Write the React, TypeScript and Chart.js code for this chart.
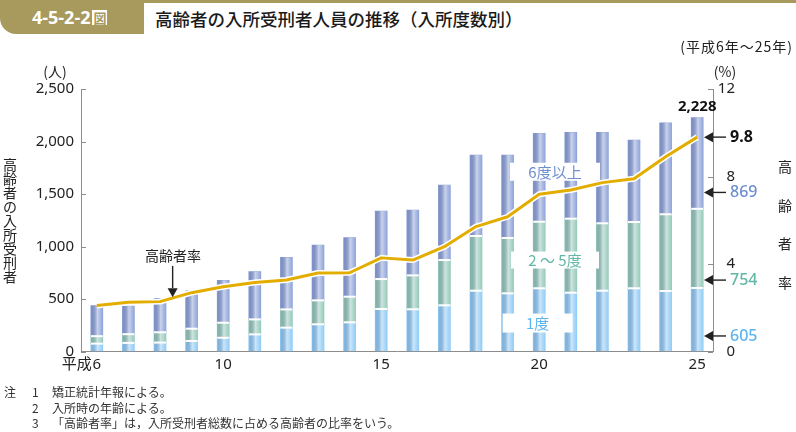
import React, { useEffect, useRef } from 'react';
import { Chart, registerables } from 'chart.js';

Chart.register(...registerables);

// ---- data ----
const years = ['6', '7', '8', '9', '10', '11', '12', '13', '14', '15', '16', '17', '18', '19', '20', '21', '22', '23', '24', '25'];
const firstTime = [75, 82, 85, 100, 131, 163, 227, 259, 278, 405, 402, 440, 579, 554, 602, 560, 579, 602, 576, 605];
const twoToFive = [71, 83, 98, 117, 143, 143, 174, 228, 244, 285, 323, 431, 521, 527, 634, 705, 642, 631, 731, 754];
const sixPlus = [291, 268, 320, 362, 404, 454, 496, 527, 562, 648, 623, 715, 771, 790, 842, 822, 866, 781, 872, 869];
const elderlyRate = [2.1, 2.25, 2.28, 2.69, 2.96, 3.15, 3.27, 3.59, 3.6, 4.28, 4.18, 4.79, 5.71, 6.16, 7.19, 7.38, 7.72, 7.9, 8.9, 9.8];
const leftTicks = [0, 500, 1000, 1500, 2000, 2500];
const rightTicks = [0, 4, 8, 12];
const labeledYears = ['6', '10', '15', '20', '25'];

const GOLD = '#a8995c';
const LINE_GOLD = '#e3ad00';
const AXIS = '#8c8c8c';
const C_SIX = '#879dd6';
const C_TWO = '#8fc6b7';
const C_ONE = '#8ac8f4';
const T_SIX = '#6f8ed0';
const T_TWO = '#62b7a6';
const T_ONE = '#5db5ee';
const NUM_FONT = "'Noto Sans', 'Noto Sans CJK JP', sans-serif";
const JP_FONT = "'Noto Sans CJK JP', 'Noto Sans', sans-serif";

function arrow(ctx: CanvasRenderingContext2D, x1: number, y1: number, x2: number, y2: number) {
  const ang = Math.atan2(y2 - y1, x2 - x1);
  const hl = 9;
  const hw = 5;
  const bx = x2 - Math.cos(ang) * hl;
  const by = y2 - Math.sin(ang) * hl;
  ctx.save();
  ctx.strokeStyle = '#222';
  ctx.fillStyle = '#222';
  ctx.lineWidth = 1.4;
  ctx.beginPath();
  ctx.moveTo(x1, y1);
  ctx.lineTo(bx, by);
  ctx.stroke();
  ctx.beginPath();
  ctx.moveTo(x2, y2);
  ctx.lineTo(bx - Math.sin(ang) * hw, by + Math.cos(ang) * hw);
  ctx.lineTo(bx + Math.sin(ang) * hw, by - Math.cos(ang) * hw);
  ctx.closePath();
  ctx.fill();
  ctx.restore();
}

const decor = {
  id: 'decor',
  afterDatasetDraw(chart: any, args: any) {
    const meta = args.meta;
    if (meta.type !== 'bar') return;
    const ctx: CanvasRenderingContext2D = chart.ctx;
    ctx.save();
    meta.data.forEach((el: any) => {
      const { x, y, base, width } = el.getProps(['x', 'y', 'base', 'width'], true);
      const l = x - width / 2;
      const g = ctx.createLinearGradient(l, 0, l + width, 0);
      g.addColorStop(0, 'rgba(40,40,80,0.08)');
      g.addColorStop(0.55, 'rgba(255,255,255,0.55)');
      g.addColorStop(1, 'rgba(255,255,255,0.08)');
      ctx.fillStyle = g;
      ctx.fillRect(l, y, width, base - y);
      if (args.index < 2) {
        ctx.fillStyle = '#ffffff';
        ctx.fillRect(l, y - 1, width, 2);
      }
    });
    ctx.restore();
  },
  afterDraw(chart: any) {
    const ctx: CanvasRenderingContext2D = chart.ctx;
    const area = chart.chartArea;
    const ys = chart.scales.y;
    const yr = chart.scales.y1;
    const xs = chart.scales.x;
    const xAt = (i: number) => {
      const a = xs.getPixelForValue(Math.floor(i));
      const b = xs.getPixelForValue(Math.floor(i) + 1);
      return a + (b - a) * (i - Math.floor(i));
    };
    ctx.save();
    // inward ticks
    ctx.strokeStyle = AXIS;
    ctx.lineWidth = 1;
    leftTicks.forEach((v) => {
      const y = Math.round(ys.getPixelForValue(v)) + 0.5;
      ctx.beginPath();
      ctx.moveTo(area.left, y);
      ctx.lineTo(area.left + 5, y);
      ctx.stroke();
    });
    rightTicks.forEach((v) => {
      const y = Math.round(yr.getPixelForValue(v)) + 0.5;
      ctx.beginPath();
      ctx.moveTo(area.right - 5, y);
      ctx.lineTo(area.right, y);
      ctx.stroke();
    });

    ctx.fillStyle = '#222';
    ctx.textBaseline = 'middle';
    // unit labels
    ctx.font = `14px ${JP_FONT}`;
    ctx.textAlign = 'center';
    ctx.fillText('(人)', 55, 72);
    ctx.fillText('(%)', 725, 72);
    ctx.font = `14px ${JP_FONT}`;
    ctx.textAlign = 'right';
    (ctx as any).letterSpacing = '1px';
    ctx.fillText('(平成6年～25年)', 793, 47);
    (ctx as any).letterSpacing = '0px';
    // 平成 prefix
    ctx.font = `15px ${JP_FONT}`;
    ctx.textAlign = 'right';
    ctx.fillText('平成', xs.getPixelForValue(0) - 5, 363);

    // vertical axis titles
    ctx.font = `14px ${JP_FONT}`;
    ctx.textAlign = 'center';
    const leftTitle = '高齢者の入所受刑者';
    for (let i = 0; i < leftTitle.length; i++) {
      ctx.fillText(leftTitle[i], 10, 165 + i * 13.9);
    }
    const rightTitle = '高齢者率';
    for (let i = 0; i < rightTitle.length; i++) {
      ctx.fillText(rightTitle[i], 785, 167 + i * 38.5);
    }

    // 高齢者率 label with arrow
    ctx.font = `14px ${JP_FONT}`;
    ctx.fillText('高齢者率', 173, 256);
    const ax = xAt(2.4);
    arrow(ctx, ax, 266, ax, yr.getPixelForValue(2.44) - 1);

    // series labels inside chart (white boxes)
    const boxes = [
      { t: '6度以上', i: 14.5, v: 1712, w: 90, h: 18, c: T_SIX },
      { t: '2 ～ 5度', i: 14.5, v: 871, w: 88, h: 17, c: T_TWO },
      { t: '1度', i: 13.95, v: 271, w: 70, h: 19, c: T_ONE },
    ];
    boxes.forEach((b) => {
      const cx = xAt(b.i);
      const cy = ys.getPixelForValue(b.v);
      ctx.fillStyle = '#ffffff';
      ctx.fillRect(cx - b.w / 2, cy - b.h / 2, b.w, b.h);
      ctx.fillStyle = b.c;
      ctx.font = `15px ${JP_FONT}`;
      ctx.textAlign = 'center';
      ctx.fillText(b.t, cx, cy + 0.5);
    });

    // total label
    const last = years.length - 1;
    const total = firstTime[last] + twoToFive[last] + sixPlus[last];
    ctx.fillStyle = '#111';
    ctx.font = `bold 15px ${NUM_FONT}`;
    ctx.textAlign = 'center';
    ctx.fillText(total.toLocaleString('en-US'), xs.getPixelForValue(last), ys.getPixelForValue(total) - 11);

    // right side value arrows
    const rightLabels = [
      { y: yr.getPixelForValue(elderlyRate[last]), t: String(elderlyRate[last]), c: '#111', bold: true },
      { y: ys.getPixelForValue(1515), t: String(sixPlus[last]), c: T_SIX, bold: false },
      { y: ys.getPixelForValue(680), t: String(twoToFive[last]), c: T_TWO, bold: false },
      { y: ys.getPixelForValue(148), t: String(firstTime[last]), c: T_ONE, bold: false },
    ];
    rightLabels.forEach((r) => {
      arrow(ctx, 726, r.y, 704, r.y);
      ctx.fillStyle = r.c;
      ctx.font = `${r.bold ? 'bold' : '500'} 16px ${NUM_FONT}`;
      ctx.textAlign = 'left';
      ctx.fillText(r.t, 730, r.y + 0.5);
    });
    ctx.restore();
  },
};

export default function App() {
  const ref = useRef<HTMLCanvasElement | null>(null);
  useEffect(() => {
    if (!ref.current) return;
    const chart = new Chart(ref.current, {
      type: 'bar',
      data: {
        labels: years,
        datasets: [
          { type: 'bar', label: '1度', data: firstTime, backgroundColor: C_ONE, stack: 's', barThickness: 12, yAxisID: 'y', order: 2 },
          { type: 'bar', label: '2～5度', data: twoToFive, backgroundColor: C_TWO, stack: 's', barThickness: 12, yAxisID: 'y', order: 2 },
          { type: 'bar', label: '6度以上', data: sixPlus, backgroundColor: C_SIX, stack: 's', barThickness: 12, yAxisID: 'y', order: 2 },
          { type: 'line', label: 'outline', data: elderlyRate, borderColor: '#ffffff', borderWidth: 6, pointRadius: 0, yAxisID: 'y1', order: 1, tension: 0, borderJoinStyle: 'round' },
          { type: 'line', label: '高齢者率', data: elderlyRate, borderColor: LINE_GOLD, borderWidth: 3, pointRadius: 0, yAxisID: 'y1', order: 0, tension: 0, borderJoinStyle: 'round' },
        ] as any,
      },
      options: {
        responsive: false,
        animation: false,
        devicePixelRatio: 1,
        layout: { padding: { top: 89, right: 61, left: 0, bottom: 0 } },
        plugins: { legend: { display: false }, tooltip: { enabled: false } },
        scales: {
          x: {
            stacked: true,
            offset: true,
            grid: { display: true, drawOnChartArea: false, drawTicks: false },
            border: { display: true, color: AXIS },
            ticks: {
              autoSkip: false,
              maxRotation: 0,
              padding: 4,
              color: '#222',
              font: { size: 15, family: NUM_FONT },
              callback: (_v: any, i: number) => (labeledYears.includes(years[i]) ? years[i] : ''),
            },
            afterFit: (s: any) => { s.height = 80.5; },
          },
          y: {
            stacked: true,
            position: 'left',
            min: 0,
            max: 2500,
            grid: { display: true, drawOnChartArea: false, drawTicks: false },
            border: { display: true, color: AXIS },
            afterBuildTicks: (s: any) => { s.ticks = leftTicks.map((v) => ({ value: v })); },
            ticks: {
              padding: 7,
              color: '#222',
              font: { size: 15, family: NUM_FONT },
              callback: (v: any) => Number(v).toLocaleString('en-US'),
            },
            afterFit: (s: any) => { s.width = 81; },
          },
          y1: {
            position: 'right',
            min: 0,
            max: 12,
            grid: { display: true, drawOnChartArea: false, drawTicks: false },
            border: { display: true, color: AXIS },
            afterBuildTicks: (s: any) => { s.ticks = rightTicks.map((v) => ({ value: v })); },
            ticks: {
              padding: 5,
              crossAlign: 'far',
              color: '#222',
              font: { size: 15, family: NUM_FONT },
            },
            afterFit: (s: any) => { s.width = 22; },
          },
        },
      } as any,
      plugins: [decor],
    });
    return () => chart.destroy();
  }, []);

  const noteStyle: React.CSSProperties = { position: 'absolute', fontSize: 12, color: '#333', fontFamily: JP_FONT, lineHeight: '14px', whiteSpace: 'nowrap' };
  return (
    <div style={{ position: 'absolute', left: 0, top: 0, width: 796, height: 432, background: '#fff', overflow: 'hidden' }}>
      <div style={{ position: 'absolute', left: 0, top: 0, width: 796, height: 3, background: GOLD }} />
      <div style={{ position: 'absolute', left: 0, top: 0, width: 144, height: 34, background: GOLD, borderBottomLeftRadius: 16 }} />
      <div style={{ position: 'absolute', left: 32, top: 0, height: 34, display: 'flex', alignItems: 'center', color: '#fff', fontFamily: NUM_FONT, fontWeight: 700, fontSize: 18 }}>
        4-5-2-2
        <span style={{ display: 'inline-block', marginLeft: 2, width: 15, height: 15, lineHeight: '15px', background: '#fff', color: GOLD, fontFamily: JP_FONT, fontSize: 13, fontWeight: 700, textAlign: 'center' }}>図</span>
      </div>
      <div style={{ position: 'absolute', left: 155, top: 0, height: 36, display: 'flex', alignItems: 'center', color: '#1a1a1a', fontFamily: JP_FONT, fontWeight: 500, fontSize: 17.5, whiteSpace: 'nowrap' }}>
        高齢者の入所受刑者人員の推移（入所度数別）
      </div>
      <canvas ref={ref} width={796} height={432} style={{ position: 'absolute', left: 0, top: 0, width: 796, height: 432 }} />
      <div style={{ ...noteStyle, left: 4, top: 385 }}>注</div>
      <div style={{ ...noteStyle, left: 32, top: 385 }}>1</div>
      <div style={{ ...noteStyle, left: 52, top: 385 }}>矯正統計年報による。</div>
      <div style={{ ...noteStyle, left: 32, top: 401 }}>2</div>
      <div style={{ ...noteStyle, left: 52, top: 401 }}>入所時の年齢による。</div>
      <div style={{ ...noteStyle, left: 32, top: 416 }}>3</div>
      <div style={{ ...noteStyle, left: 52, top: 416 }}>「高齢者率」は，入所受刑者総数に占める高齢者の比率をいう。</div>
    </div>
  );
}
